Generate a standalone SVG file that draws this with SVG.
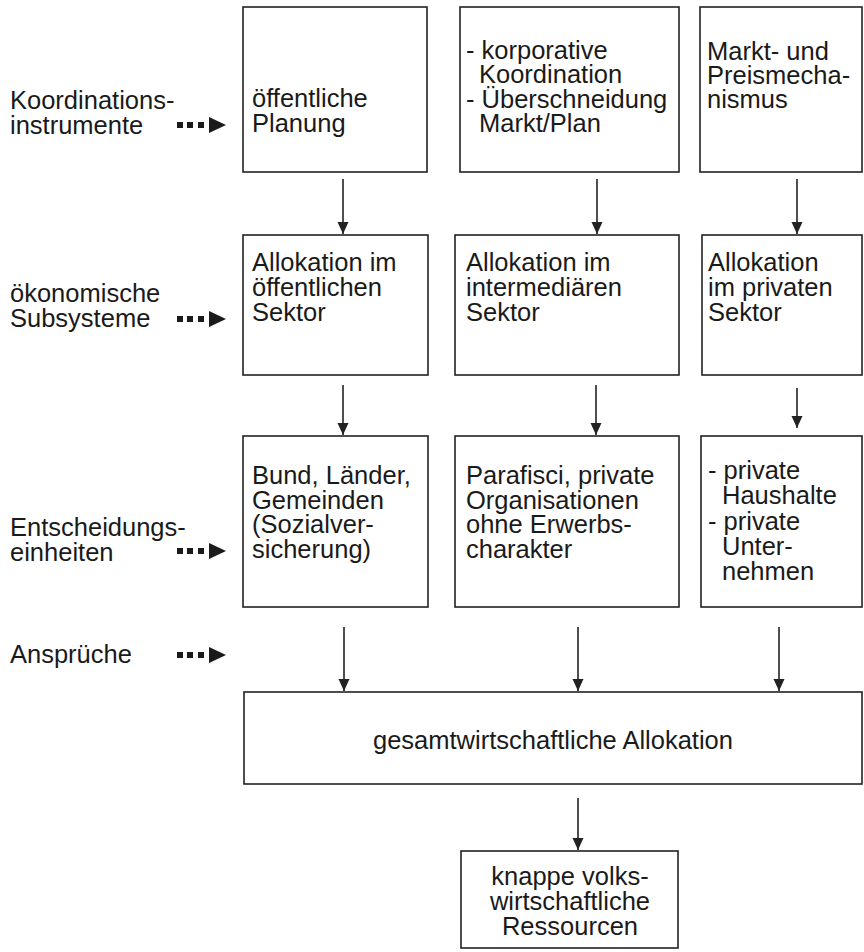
<svg xmlns="http://www.w3.org/2000/svg" width="864" height="952" viewBox="0 0 864 952">
<style>
.box{fill:#fff;stroke:#222;stroke-width:1.6}
.t{font-family:"Liberation Sans",Arial,sans-serif;font-size:25.5px;fill:#1a1a1a}
.c{text-anchor:middle}
.ln{stroke:#222;stroke-width:1.6;fill:none}
.dot{fill:#1a1a1a}
</style>
<defs>
<marker id="ah" markerUnits="userSpaceOnUse" markerWidth="12" markerHeight="14" viewBox="0 0 12 14" refX="12" refY="7" orient="auto">
<path d="M0,1.5 L12,7 L0,12.5 Z" fill="#222"/>
</marker>
<g id="darr">
<rect x="0" y="-3" width="6" height="6"/>
<rect x="10" y="-3" width="6" height="6"/>
<rect x="21" y="-3" width="6" height="6"/>
<polygon points="32,-8 49,0 32,8"/>
</g>
</defs>
<rect width="864" height="952" fill="#fff"/>

<g id="label-koordination">
<text class="t" x="10" y="109">Koordinations-</text>
<text class="t" x="10" y="134">instrumente</text>
<use href="#darr" x="177" y="125" class="dot"/>
</g>
<g id="label-subsysteme">
<text class="t" x="10" y="302">ökonomische</text>
<text class="t" x="10" y="327">Subsysteme</text>
<use href="#darr" x="177" y="319" class="dot"/>
</g>
<g id="label-entscheidung">
<text class="t" x="10" y="536">Entscheidungs-</text>
<text class="t" x="10" y="561">einheiten</text>
<use href="#darr" x="177" y="551" class="dot"/>
</g>
<g id="label-ansprueche">
<text class="t" x="10" y="663">Ansprüche</text>
<use href="#darr" x="177" y="655" class="dot"/>
</g>

<g id="n-planung">
<rect class="box" x="243" y="7" width="184" height="165"/>
<text class="t" x="252" y="107">öffentliche</text>
<text class="t" x="252" y="132">Planung</text>
</g>
<g id="n-korporativ">
<rect class="box" x="460" y="7" width="219" height="165"/>
<text class="t" x="466" y="59">- korporative</text>
<text class="t" x="479" y="83">Koordination</text>
<text class="t" x="466" y="108">- Überschneidung</text>
<text class="t" x="479" y="132">Markt/Plan</text>
</g>
<g id="n-markt">
<rect class="box" x="700" y="7" width="162" height="165"/>
<text class="t" x="707" y="60">Markt- und</text>
<text class="t" x="707" y="84">Preismecha-</text>
<text class="t" x="707" y="108">nismus</text>
</g>

<g id="n-alloc-oeff">
<rect class="box" x="243" y="235" width="185" height="140"/>
<text class="t" x="252" y="271">Allokation im</text>
<text class="t" x="252" y="296">öffentlichen</text>
<text class="t" x="252" y="321">Sektor</text>
</g>
<g id="n-alloc-inter">
<rect class="box" x="455" y="235" width="224" height="140"/>
<text class="t" x="466" y="271">Allokation im</text>
<text class="t" x="466" y="296">intermediären</text>
<text class="t" x="466" y="321">Sektor</text>
</g>
<g id="n-alloc-priv">
<rect class="box" x="702" y="235" width="160" height="140"/>
<text class="t" x="708" y="271">Allokation</text>
<text class="t" x="708" y="296">im privaten</text>
<text class="t" x="708" y="321">Sektor</text>
</g>

<g id="n-bund">
<rect class="box" x="243" y="436" width="185" height="171"/>
<text class="t" x="252" y="484">Bund, Länder,</text>
<text class="t" x="252" y="509">Gemeinden</text>
<text class="t" x="252" y="533">(Sozialver-</text>
<text class="t" x="252" y="558">sicherung)</text>
</g>
<g id="n-parafisci">
<rect class="box" x="455" y="436" width="224" height="171"/>
<text class="t" x="466" y="484">Parafisci, private</text>
<text class="t" x="466" y="509">Organisationen</text>
<text class="t" x="466" y="533">ohne Erwerbs-</text>
<text class="t" x="466" y="558">charakter</text>
</g>
<g id="n-private">
<rect class="box" x="701" y="436" width="161" height="171"/>
<text class="t" x="708" y="479">- private</text>
<text class="t" x="722" y="504">Haushalte</text>
<text class="t" x="708" y="530">- private</text>
<text class="t" x="722" y="555">Unter-</text>
<text class="t" x="722" y="580">nehmen</text>
</g>

<g id="n-gesamt">
<rect class="box" x="244" y="692" width="618" height="92"/>
<text class="t c" x="553" y="749">gesamtwirtschaftliche Allokation</text>
</g>
<g id="n-ressourcen">
<rect class="box" x="461" y="851" width="217" height="97"/>
<text class="t c" x="570" y="885">knappe volks-</text>
<text class="t c" x="570" y="910">wirtschaftliche</text>
<text class="t c" x="570" y="935">Ressourcen</text>
</g>

<g id="connectors">
<line class="ln" x1="343" y1="179" x2="343" y2="234" marker-end="url(#ah)"/>
<line class="ln" x1="597" y1="179" x2="597" y2="234" marker-end="url(#ah)"/>
<line class="ln" x1="797" y1="179" x2="797" y2="234" marker-end="url(#ah)"/>
<line class="ln" x1="343" y1="385" x2="343" y2="435" marker-end="url(#ah)"/>
<line class="ln" x1="596" y1="385" x2="596" y2="435" marker-end="url(#ah)"/>
<line class="ln" x1="797" y1="388" x2="797" y2="428" marker-end="url(#ah)"/>
<line class="ln" x1="344" y1="627" x2="344" y2="691" marker-end="url(#ah)"/>
<line class="ln" x1="578" y1="627" x2="578" y2="691" marker-end="url(#ah)"/>
<line class="ln" x1="779" y1="627" x2="779" y2="691" marker-end="url(#ah)"/>
<line class="ln" x1="578" y1="798" x2="578" y2="850" marker-end="url(#ah)"/>
</g>
</svg>
